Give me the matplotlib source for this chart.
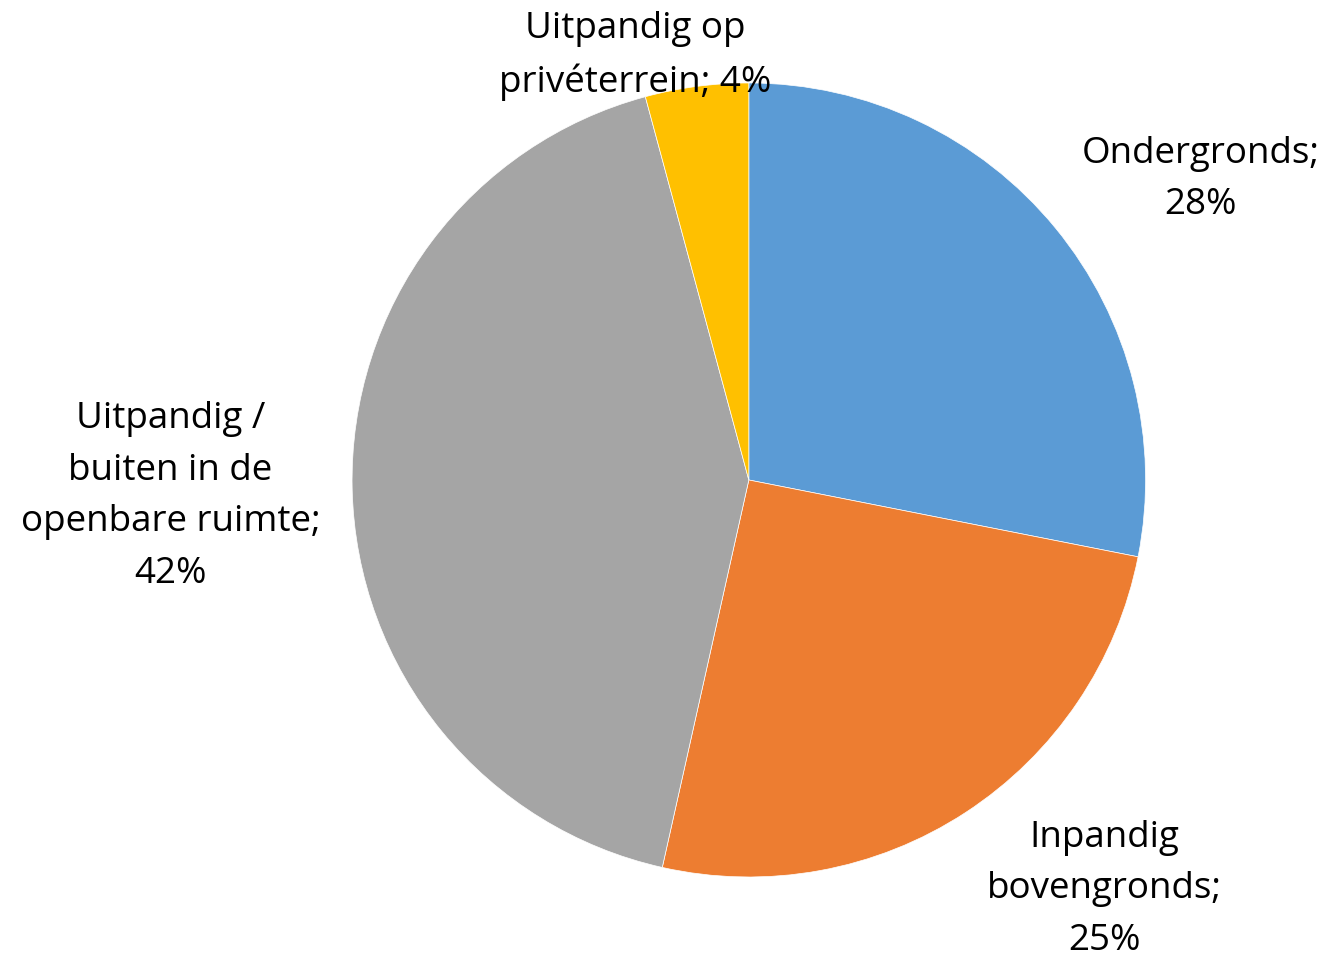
import matplotlib
matplotlib.use('Agg')
import matplotlib.pyplot as plt

# Share per location (clockwise from 12 o'clock)
labels = ['Ondergronds;\n28%', 'Inpandig\nbovengronds;\n25%',
          'Uitpandig /\nbuiten in de\nopenbare ruimte;\n42%',
          'Uitpandig op\nprivéterrein; 4%']
shares = [28.1, 25.4, 42.3, 4.2]
colors = ['#5B9BD5', '#ED7D31', '#A5A5A5', '#FFC000']

# label centres, in pie radius units
label_pos = [(1.139, 0.757), (0.897, -1.031), (-1.458, -0.042), (-0.287, 1.069)]

plt.rcParams['font.family'] = ['Open Sans', 'DejaVu Sans']

fig = plt.figure(figsize=(13.27, 9.57), dpi=100)
ax = fig.add_axes([0.2653, 0.0836, 0.598, 0.8297])
ax.pie(shares, colors=colors, startangle=90, counterclock=False, radius=1,
       wedgeprops=dict(edgecolor='white', linewidth=0.5))
ax.set_xlim(-1, 1)
ax.set_ylim(-1, 1)
ax.set_aspect('auto')
ax.axis('off')

for txt, (x, y) in zip(labels, label_pos):
    ax.text(x, y, txt, ha='center', va='center', fontsize=26.5,
            color='#000000', linespacing=1.58, clip_on=False)

fig.savefig('out.png', dpi=100)
